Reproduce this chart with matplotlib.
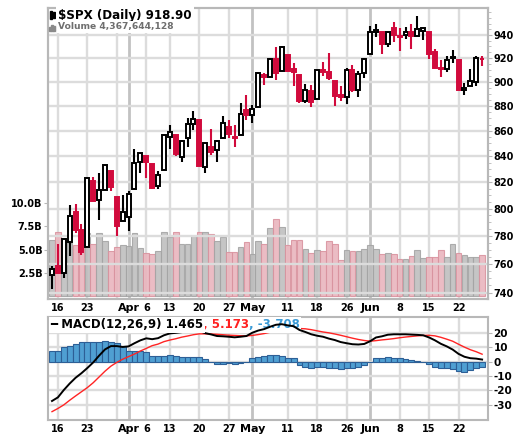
import matplotlib
matplotlib.use("Agg")
import matplotlib.pyplot as plt
import numpy as np
from matplotlib.patches import Rectangle

# ---------------------------------------------------------------------------
# Data: $SPX daily, Mar 13 - Jun 26 2009 (index 0 = Mar 13)
# ---------------------------------------------------------------------------
opens = [751.97, 758.84, 753.88, 776.01, 797.92, 784.58, 772.31, 820.60, 806.81, 814.06,
         828.68, 809.07, 790.88, 793.59, 814.53, 835.13, 839.75, 834.12, 816.76, 829.29,
         855.33, 856.88, 839.44, 854.54, 865.18, 868.27, 831.25, 847.26, 844.62, 853.91,
         862.82, 854.48, 856.85, 876.59, 872.74, 879.21, 906.10, 903.95, 919.58, 909.03,
         922.99, 910.52, 905.40, 884.24, 892.76, 886.07, 909.67, 908.62, 900.42, 888.68,
         887.00, 909.95, 892.96, 907.02, 923.26, 942.87, 942.51, 932.49, 945.67, 938.12,
         940.35, 942.73, 939.04, 943.44, 942.45, 925.60, 911.89, 910.86, 919.96, 918.13,
         893.46, 896.31, 899.45, 918.84]
highs = [758.29, 774.53, 778.12, 803.04, 803.24, 788.91, 823.37, 823.65, 826.78, 832.98,
         828.68, 809.07, 810.48, 813.62, 845.61, 842.50, 839.75, 834.12, 828.42, 856.91,
         864.31, 856.88, 852.93, 870.35, 875.63, 868.27, 850.09, 861.78, 852.87, 871.80,
         868.83, 864.48, 882.06, 888.70, 880.48, 907.85, 907.70, 920.28, 929.58, 930.17,
         922.99, 915.57, 905.40, 898.36, 896.97, 910.00, 916.39, 924.60, 900.42, 896.65,
         911.76, 913.84, 909.45, 920.02, 947.77, 949.38, 942.51, 942.47, 951.69, 946.33,
         946.92, 949.77, 956.23, 946.30, 942.45, 928.00, 918.44, 921.93, 927.09, 918.13,
         898.69, 910.85, 921.42, 922.00]
lows = [742.46, 753.37, 749.93, 765.64, 781.82, 766.20, 772.31, 805.48, 791.37, 814.06,
        813.43, 779.81, 790.88, 783.32, 814.53, 826.70, 822.79, 814.53, 814.84, 829.29,
        845.35, 840.25, 835.58, 847.04, 860.87, 832.39, 826.83, 840.57, 835.45, 853.91,
        854.65, 847.12, 856.85, 868.51, 866.10, 879.21, 897.34, 903.95, 901.36, 909.03,
        908.68, 896.46, 882.52, 882.52, 878.94, 886.07, 905.22, 901.37, 879.61, 883.75,
        881.46, 891.87, 887.60, 903.56, 923.26, 938.46, 923.85, 929.32, 934.13, 926.44,
        936.15, 927.97, 939.04, 935.66, 919.65, 911.60, 903.78, 907.94, 915.80, 893.04,
        888.86, 896.31, 896.27, 913.03]
closes = [756.55, 753.89, 778.12, 794.35, 784.04, 768.54, 822.92, 806.12, 813.88, 832.86,
          815.94, 787.53, 797.87, 811.08, 834.38, 842.50, 835.48, 815.55, 825.16, 856.56,
          858.73, 841.50, 852.06, 865.30, 869.60, 832.39, 850.08, 843.55, 851.92, 866.23,
          857.51, 855.16, 873.64, 872.81, 877.52, 907.24, 903.80, 919.53, 907.39, 929.23,
          909.24, 908.35, 883.92, 893.07, 882.88, 909.71, 908.13, 903.47, 888.33, 887.00,
          910.33, 893.06, 906.83, 919.14, 942.87, 944.74, 931.76, 942.46, 940.09, 939.14,
          942.43, 939.15, 944.89, 946.21, 923.72, 911.97, 910.71, 918.37, 921.23, 893.04,
          895.10, 900.94, 920.26, 918.90]
prev_close = 750.74   # Mar 12 close, colours the first candle

# volume in billions of shares
volume_b = [6.0, 6.9, 6.25, 5.7, 5.5, 5.5, 6.8, 5.6, 6.8, 5.9,
            4.8, 5.3, 5.5, 5.4, 6.8, 5.2, 4.6, 4.5, 4.8, 6.9,
            6.4, 6.9, 5.6, 5.6, 6.5, 6.9, 6.9, 6.7, 5.9, 6.35,
            4.7, 4.7, 5.3, 5.8, 4.5, 5.9, 5.6, 7.3, 8.3, 7.4,
            5.5, 6.0, 6.0, 5.1, 4.6, 4.9, 4.8, 5.9, 5.6, 3.9,
            4.9, 4.8, 4.8, 5.1, 5.5, 5.1, 4.5, 4.6, 4.5, 4.0,
            4.0, 4.3, 4.9, 4.05, 4.2, 4.2, 4.9, 4.2, 5.6, 4.6,
            4.4, 4.2, 4.2, 4.37]

macd = [-27.3, -24.8, -19.7, -15.2, -11.2, -8.0, -4.4, -0.5, 4.2, 8.5,
        10.8, 10.8, 10.2, 10.6, 12.8, 14.8, 16.2, 15.6, 16.3, 18.3,
        19.6, 20.0, 20.5, 21.1, 21.6, 21.2, 19.8, 18.9, 17.8, 17.6,
        17.3, 16.9, 17.3, 17.8, 20.1, 21.6, 22.6, 24.2, 25.6, 26.0,
        25.2, 24.6, 22.0, 20.6, 19.0, 18.0, 17.3, 16.0, 15.0, 13.6,
        12.8, 12.1, 11.9, 12.3, 14.2, 16.8, 17.6, 18.7, 19.0, 19.0,
        19.0, 18.8, 18.6, 18.3, 16.8, 14.8, 12.4, 10.6, 8.4, 5.4,
        3.4, 2.4, 2.1, 1.465]
signal = [-34.7, -32.5, -30.0, -26.8, -23.8, -20.9, -18.0, -14.6, -10.6, -6.6,
          -3.1, -0.5, 1.7, 3.5, 5.3, 7.4, 9.2, 11.1, 12.2, 13.9,
          15.0, 15.9, 17.0, 17.8, 18.7, 19.3, 19.3, 19.2, 19.0, 18.7,
          18.4, 18.2, 18.0, 17.9, 18.2, 18.8, 19.5, 20.4, 21.4, 22.4,
          22.8, 22.8, 23.0, 22.8, 22.2, 21.4, 20.6, 20.0, 19.2, 18.3,
          17.3, 16.3, 15.4, 14.7, 14.2, 14.6, 15.1, 15.5, 16.0, 16.6,
          17.1, 17.5, 17.9, 18.2, 18.3, 17.9, 16.9, 15.6, 14.2, 12.1,
          10.1, 8.3, 6.9, 5.173]
hist = [7.4, 7.6, 10.4, 11.0, 12.0, 13.9, 13.9, 13.9, 13.9, 14.4,
        13.4, 12.7, 11.0, 7.6, 7.4, 7.4, 7.0, 4.2, 4.2, 4.2,
        4.6, 4.2, 3.5, 3.5, 3.0, 3.0, 1.9, -0.3, -1.6, -1.6,
        -1.2, -1.4, -0.7, 0.0, 2.3, 3.5, 3.9, 4.6, 4.6, 3.9,
        2.8, 2.3, -2.3, -3.5, -4.6, -3.5, -3.5, -4.2, -4.6, -5.1,
        -4.6, -4.2, -3.5, -2.3, 0.0, 2.8, 2.8, 3.5, 2.8, 2.3,
        1.9, 1.2, 0.5, 0.0, -1.9, -3.5, -4.2, -4.6, -5.1, -6.5,
        -6.9, -5.8, -4.6, -3.708]

# date axis
tick_idx = [1, 6, 13, 16, 20, 25, 30, 34, 40, 45, 50, 54, 59, 64, 69]
tick_labels = ["16", "23", "Apr", "6", "13", "20", "27", "May",
               "11", "18", "26", "Jun", "8", "15", "22"]
week_idx = [1, 6, 11, 16, 20, 25, 30, 40, 45, 50, 59, 64, 69]
month_idx = [13, 34, 54]

price_ticks = [740, 760, 780, 800, 820, 840, 860, 880, 900, 920, 940]
vol_ticks = [2.5, 5.0, 7.5, 10.0]
macd_ticks = [-30, -20, -10, 0, 10, 20]

# ---------------------------------------------------------------------------
# Style
# ---------------------------------------------------------------------------
RED = "#d10a3c"
GRID = "#dcdcdc"
MONTH = "#c2c2c2"
SPINE = "#b8b8b8"
plt.rcParams["font.family"] = ["DejaVu Sans"]
plt.rcParams["font.weight"] = "bold"

W, H = 523, 434
fig = plt.figure(figsize=(W / 100, H / 100), dpi=100)


def box(left, top, right, bottom):
    return [left / W, 1 - bottom / H, (right - left) / W, (bottom - top) / H]


x = np.arange(len(closes))
prev = [prev_close] + closes[:-1]
up = [c >= p for c, p in zip(closes, prev)]
XLIM = (-0.68, 74.0)

# ── Price / volume panel ───────────────────────────────────────────────────
ax_vol = fig.add_axes(box(48, 8, 488, 299))
ax = ax_vol.twinx()

for i in week_idx:
    ax_vol.axvline(i, color=GRID, lw=1.7, zorder=0)
for i in month_idx:
    ax_vol.axvline(i, color=MONTH, lw=2.0, zorder=0)

vol_face = ["#bdbdbd" if u else "#e9b3bc" for u in up]
vol_edge = ["#a4a4a4" if u else "#d9929e" for u in up]
ax_vol.bar(x, volume_b, width=0.95, color=vol_face, edgecolor=vol_edge,
           linewidth=0.8, alpha=0.88, zorder=1)
ax_vol.set_ylim(-0.3, 30.9)
ax_vol.set_xlim(*XLIM)
ax_vol.set_yticks(vol_ticks, labels=[f"{v:.1f}B" for v in vol_ticks])
ax_vol.tick_params(axis="y", length=3, color=SPINE, labelsize=7, pad=1)
ax_vol.set_xticks(tick_idx, labels=tick_labels)
ax_vol.tick_params(axis="x", length=0, labelsize=7, pad=3)
for lbl in ax_vol.get_xticklabels():
    if lbl.get_text() in ("Apr", "May", "Jun"):
        lbl.set_fontsize(8)

ax.set_yscale("log")
ax.set_ylim(735.7, 963.8)
for p in price_ticks:
    ax.axhline(p, color=GRID, lw=1.7, zorder=0)

col = ["black" if u else RED for u in up]
face = ["white" if c > o else cc for o, c, cc in zip(opens, closes, col)]
ax.vlines(x, lows, highs, colors=col, lw=1.5, zorder=3)
bottoms = [min(o, c) for o, c in zip(opens, closes)]
heights = [max(abs(c - o), 0.3) for o, c in zip(opens, closes)]
ax.bar(x, heights, bottom=bottoms, width=0.68, color=face, edgecolor=col,
       linewidth=1.4, zorder=4)

ax.set_yticks(price_ticks, labels=[str(p) for p in price_ticks])
minor = [p for p in range(740, 965, 5) if p not in price_ticks]
ax.set_yticks(minor, labels=[""] * len(minor), minor=True)
ax.tick_params(axis="y", which="major", length=3, color=SPINE, labelsize=7, pad=1)
ax.tick_params(axis="y", which="minor", length=2, color=SPINE)

for a in (ax_vol, ax):
    for s in a.spines.values():
        s.set_color(SPINE)
        s.set_linewidth(1.5)

# titles
fig.text(58 / W, 1 - 15 / H, "$SPX (Daily) 918.90", fontsize=8.6, va="center",
         ha="left", parse_math=False,
         bbox=dict(facecolor="white", edgecolor="none", pad=1.5))
fig.text(58 / W, 1 - 27 / H, "Volume 4,367,644,128", fontsize=6.6, color="#6e6e6e",
         va="center", ha="left",
         bbox=dict(facecolor="white", edgecolor="none", pad=1.0))
# small legend icons
fig.patches.append(Rectangle((50 / W, 1 - 19 / H), 2 / W, 8 / H, color="black",
                             transform=fig.transFigure, figure=fig))
fig.patches.append(Rectangle((53 / W, 1 - 18 / H), 2 / W, 6 / H, color="black",
                             transform=fig.transFigure, figure=fig))
for k, hgt in enumerate([4, 6, 5]):
    fig.patches.append(Rectangle(((49 + 2.2 * k) / W, 1 - 31 / H), 1.5 / W, hgt / H,
                                 color="#8a8a8a", transform=fig.transFigure, figure=fig))

# ── MACD panel ─────────────────────────────────────────────────────────────
ax_m = fig.add_axes(box(48, 317, 488, 420))
for i in week_idx:
    ax_m.axvline(i, color=GRID, lw=1.7, zorder=0)
for i in month_idx:
    ax_m.axvline(i, color=MONTH, lw=2.0, zorder=0)
for v in macd_ticks:
    ax_m.axhline(v, color=GRID, lw=1.7, zorder=0)

ax_m.bar(x, hist, width=1.0, color="#4f9fd2", edgecolor="#2d5f96",
         linewidth=0.8, zorder=2)
ax_m.plot(x, signal, color="#ff2424", lw=1.0, zorder=3)
ax_m.plot(x, macd, color="black", lw=1.4, zorder=4)

ax_m.set_xlim(*XLIM)
ax_m.set_ylim(-40.5, 31.0)
ax_m.yaxis.tick_right()
ax_m.set_yticks(macd_ticks, labels=[str(v) for v in macd_ticks])
ax_m.tick_params(axis="y", length=3, color=SPINE, labelsize=7.5, pad=1)
ax_m.set_xticks(tick_idx, labels=tick_labels)
ax_m.tick_params(axis="x", length=0, labelsize=7, pad=3)
for lbl in ax_m.get_xticklabels():
    if lbl.get_text() in ("Apr", "May", "Jun"):
        lbl.set_fontsize(8)
for s in ax_m.spines.values():
    s.set_color(SPINE)
    s.set_linewidth(1.5)

t1 = fig.text(50 / W, 1 - 325 / H, "\u2501 MACD(12,26,9) 1.465", fontsize=8.5,
              va="center", ha="left",
              bbox=dict(facecolor="white", edgecolor="none", pad=1.0))
t2 = ax_m.annotate(", 5.173", xy=(1, 0.5), xycoords=t1, va="center", ha="left",
                   fontsize=8.5, color="#ff2020",
                   bbox=dict(facecolor="white", edgecolor="none", pad=1.0))
ax_m.annotate(", -3.708", xy=(1, 0.5), xycoords=t2, va="center", ha="left",
              fontsize=8.5, color="#3a9ad6",
              bbox=dict(facecolor="white", edgecolor="none", pad=1.0))

fig.savefig("out.png", dpi=100)
